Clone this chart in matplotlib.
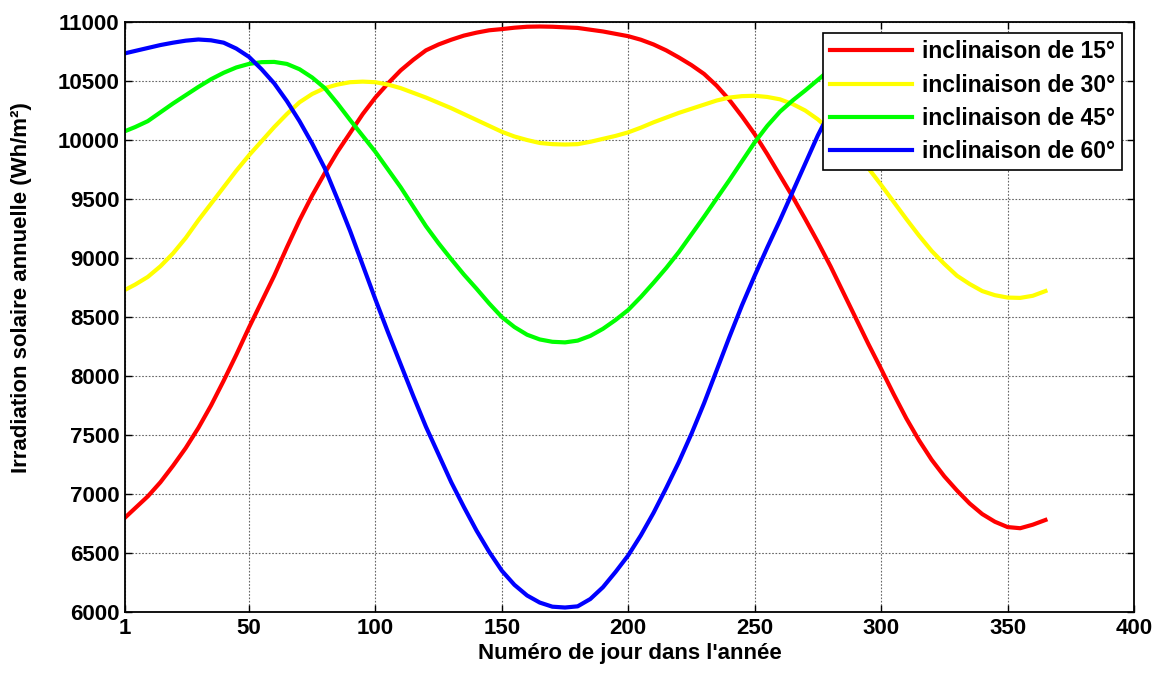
import matplotlib
matplotlib.use("Agg")
import matplotlib.pyplot as plt

plt.rcParams['font.family'] = ['Liberation Sans', 'DejaVu Sans']
plt.rcParams['font.weight'] = 'bold'

# --------------------------------------
# Data
# --------------------------------------
days = [1, 5, 10, 15, 20, 25, 30, 35, 40, 45,
        50, 55, 60, 65, 70, 75, 80, 85, 90, 95,
        100, 105, 110, 115, 120, 125, 130, 135, 140, 145,
        150, 155, 160, 165, 170, 175, 180, 185, 190, 195,
        200, 205, 210, 215, 220, 225, 230, 235, 240, 245,
        250, 255, 260, 265, 270, 275, 280, 285, 290, 295,
        300, 305, 310, 315, 320, 325, 330, 335, 340, 345,
        350, 355, 360, 365]

irr_15 = [6800, 6880, 6980, 7100, 7240, 7390, 7560, 7750, 7960, 8180,
          8410, 8630, 8850, 9090, 9320, 9530, 9720, 9900, 10060, 10220,
          10360, 10480, 10590, 10680, 10760, 10810, 10850, 10885, 10910, 10930,
          10940, 10952, 10960, 10962, 10960, 10955, 10950, 10935, 10920, 10900,
          10880, 10850, 10810, 10760, 10700, 10635, 10560, 10460, 10340, 10200,
          10050, 9880, 9700, 9520, 9330, 9135, 8930, 8710, 8490, 8270,
          8060, 7845, 7640, 7455, 7290, 7150, 7030, 6920, 6830, 6765,
          6720, 6710, 6740, 6780]

irr_30 = [8730, 8775, 8840, 8930, 9040, 9170, 9320, 9460, 9600, 9740,
          9870, 9990, 10110, 10220, 10320, 10390, 10440, 10470, 10490, 10495,
          10490, 10470, 10440, 10400, 10360, 10315, 10270, 10220, 10170, 10120,
          10070, 10030, 10000, 9975, 9965, 9962, 9965, 9985, 10010, 10035,
          10065, 10105, 10150, 10190, 10230, 10265, 10300, 10335, 10360, 10372,
          10375, 10365, 10345, 10305, 10250, 10175, 10080, 9985, 9880, 9760,
          9620, 9475, 9330, 9190, 9060, 8950, 8850, 8780, 8720, 8685,
          8665, 8662, 8680, 8720]

irr_45 = [10075, 10110, 10160, 10235, 10310, 10380, 10450, 10515, 10570, 10615,
          10645, 10660, 10662, 10645, 10600, 10530, 10440, 10310, 10170, 10035,
          9900, 9750, 9600, 9435, 9270, 9125, 8990, 8860, 8740, 8615,
          8500, 8415, 8350, 8310, 8290, 8285, 8300, 8340, 8400, 8475,
          8560, 8670, 8790, 8915, 9050, 9200, 9350, 9505, 9660, 9820,
          9980, 10120, 10240, 10335, 10420, 10510, 10600, 10660, 10680, 10675,
          10660, 10625, 10580, 10525, 10460, 10395, 10330, 10265, 10200, 10145,
          10100, 10075, 10070, 10075]

irr_60 = [10735, 10755, 10780, 10805, 10825, 10842, 10852, 10845, 10825, 10775,
          10705, 10600, 10480, 10330, 10160, 9970, 9760, 9500, 9230, 8940,
          8650, 8370, 8100, 7830, 7570, 7335, 7100, 6890, 6690, 6510,
          6350, 6230, 6140, 6080, 6045, 6038, 6048, 6110, 6210, 6340,
          6480, 6650, 6840, 7050, 7270, 7510, 7770, 8050, 8330, 8600,
          8850, 9090, 9320, 9560, 9800, 10040, 10250, 10420, 10560, 10670,
          10760, 10820, 10850, 10860, 10855, 10840, 10820, 10800, 10780, 10760,
          10745, 10735, 10730, 10735]

labels = ["inclinaison de 15°", "inclinaison de 30°",
          "inclinaison de 45°", "inclinaison de 60°"]
colors = ["#FF0000", "#FFFF00", "#00FF00", "#0000FF"]

x_ticks = [1, 50, 100, 150, 200, 250, 300, 350, 400]
y_ticks = list(range(6000, 11001, 500))

# --------------------------------------
# Plot
# --------------------------------------
fig = plt.figure(figsize=(11.61, 6.8), dpi=100)
ax = fig.add_axes([0.1077, 0.1, 0.8690, 0.8676])

for series, lab, col in zip([irr_15, irr_30, irr_45, irr_60], labels, colors):
    ax.plot(days, series, color=col, lw=3, label=lab)

ax.set_xlim(1, 400)
ax.set_ylim(6000, 11000)
ax.set_xticks(x_ticks)
ax.set_yticks(y_ticks)
ax.tick_params(direction='in', length=5, width=1, top=True, right=True,
               labelsize=16, pad=4)
for lbl in ax.get_xticklabels() + ax.get_yticklabels():
    lbl.set_fontweight('bold')

# MATLAB-like dotted grid
ax.grid(True, linestyle=(0, (1.5, 1.5)), color='0.4', lw=0.8)

for sp in ax.spines.values():
    sp.set_linewidth(1.3)

ax.set_xlabel("Numéro de jour dans l'année", fontsize=16, fontweight='bold',
              labelpad=3)
ax.set_ylabel("Irradiation solaire annuelle (Wh/m²)", fontsize=16,
              fontweight='bold')
ax.yaxis.set_label_coords(-0.092, 0.55)

leg = ax.legend(loc='upper right', fontsize=16.5, frameon=True, fancybox=False,
                handlelength=3.6, handletextpad=0.45, labelspacing=0.45,
                borderpad=0.3, borderaxespad=0.5)
leg.get_frame().set_edgecolor('black')
leg.get_frame().set_linewidth(1.2)
leg.get_frame().set_alpha(1)
for t in leg.get_texts():
    t.set_fontweight('bold')

fig.savefig("out.png", dpi=100)
plt.close(fig)
